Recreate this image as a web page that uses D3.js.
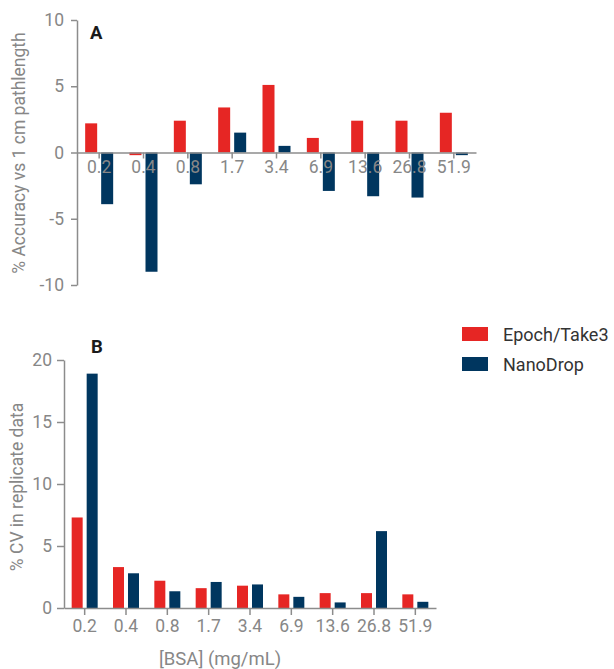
<!DOCTYPE html>
<html>
<head>
<meta charset="utf-8">
<script src="https://cdn.jsdelivr.net/npm/d3@7"></script>
<style>
  html, body { margin: 0; padding: 0; background: #fff; }
  svg { display: block; font-family: Roboto, "Noto Sans", sans-serif; }
</style>
</head>
<body>
<svg id="chart" width="614" height="669"></svg>
<script>
// BSA concentrations (mg/mL)
const categories = ["0.2", "0.4", "0.8", "1.7", "3.4", "6.9", "13.6", "26.8", "51.9"];
const seriesNames = ["Epoch/Take3", "NanoDrop"];

// Panel A: % accuracy vs 1 cm pathlength
const accuracyEpoch    = [2.2, -0.2, 2.4, 3.4, 5.1, 1.1, 2.4, 2.4, 3.0];
const accuracyNanoDrop = [-3.9, -9.0, -2.4, 1.5, 0.5, -2.9, -3.3, -3.4, -0.2];

// Panel B: % CV in replicate data
const cvEpoch    = [7.3, 3.3, 2.2, 1.6, 1.8, 1.1, 1.2, 1.2, 1.1];
const cvNanoDrop = [18.9, 2.8, 1.35, 2.1, 1.9, 0.9, 0.45, 6.2, 0.5];

const accuracyTicks = [-10, -5, 0, 5, 10];
const cvTicks = [0, 5, 10, 15, 20];

const colors = { "Epoch/Take3": "#e62624", "NanoDrop": "#00365f" };
const axisGrey = "#8c8c8c";
const textGrey = "#878787";

const svg = d3.select("#chart");

function drawPanel(opts) {
  const x = d3.scaleBand().domain(categories).range([opts.x0, opts.x1]).padding(0);
  const y = d3.scaleLinear().domain(opts.domain).range([opts.yBottom, opts.yTop]);
  const g = svg.append("g");

  // bars
  const rows = categories.map((c, i) => ({ c, a: opts.a[i], b: opts.b[i] }));
  const bw = opts.barW, gap = opts.gap;
  g.selectAll("rect.a").data(rows).join("rect")
    .attr("x", d => x(d.c) + x.bandwidth() / 2 - gap - bw)
    .attr("width", bw)
    .attr("y", d => y(Math.max(0, d.a)))
    .attr("height", d => Math.abs(y(d.a) - y(0)))
    .attr("fill", colors[seriesNames[0]]);
  g.selectAll("rect.b").data(rows).join("rect")
    .attr("x", d => x(d.c) + x.bandwidth() / 2 + gap)
    .attr("width", bw)
    .attr("y", d => y(Math.max(0, d.b)))
    .attr("height", d => Math.abs(y(d.b) - y(0)))
    .attr("fill", colors[seriesNames[1]]);

  // y axis (plain hyphen for negatives)
  const ya = g.append("g")
    .attr("transform", `translate(${opts.x0},0)`)
    .call(d3.axisLeft(y).tickValues(opts.ticks).tickFormat(d => String(d))
      .tickSize(opts.yTick).tickPadding(opts.yPad).tickSizeOuter(0));
  // x axis on the zero line
  const xa = g.append("g")
    .attr("transform", `translate(0,${y(0)})`)
    .call(d3.axisBottom(x).tickSize(opts.xTick).tickPadding(opts.xPad).tickSizeOuter(0));

  [ya, xa].forEach(a => {
    a.select(".domain").attr("stroke", axisGrey).attr("stroke-width", 1.5);
    a.selectAll(".tick line").attr("stroke", axisGrey).attr("stroke-width", 1.5);
    a.selectAll(".tick text").attr("fill", textGrey)
      .style("font-size", "17.5px").style("font-family", "Roboto, sans-serif");
  });

  // panel letter
  g.append("text").attr("x", opts.letterX).attr("y", opts.letterY)
    .text(opts.letter).attr("fill", "#1a1a1a")
    .style("font-weight", "bold").style("font-size", "18.5px");

  // y title
  g.append("text")
    .attr("transform", `translate(${opts.titleX},${opts.titleY}) rotate(-90)`)
    .attr("text-anchor", "middle")
    .attr("fill", textGrey)
    .style("font-size", "17.5px")
    .text(opts.title);
}

drawPanel({
  a: accuracyEpoch, b: accuracyNanoDrop, domain: [-10, 10], ticks: accuracyTicks,
  x0: 77, x1: 476, yBottom: 285, yTop: 20, barW: 12, gap: 2,
  yTick: 6, yPad: 7, xTick: 6, xPad: 2,
  letter: "A", letterX: 90, letterY: 39,
  title: "% Accuracy vs 1 cm pathlength", titleX: 25, titleY: 153
});

drawPanel({
  a: cvEpoch, b: cvNanoDrop, domain: [0, 20], ticks: cvTicks,
  x0: 64, x1: 436, yBottom: 608, yTop: 360, barW: 11, gap: 2,
  yTick: 7, yPad: 5, xTick: 7, xPad: 5,
  letter: "B", letterX: 91, letterY: 353,
  title: "% CV in replicate data", titleX: 23, titleY: 487
});

// x title
svg.append("text").attr("x", 220).attr("y", 665)
  .attr("text-anchor", "middle").attr("fill", textGrey)
  .style("font-size", "18.5px").text("[BSA] (mg/mL)");

// legend
const legend = svg.append("g").attr("transform", "translate(462,327)");
legend.selectAll("g").data(seriesNames).join("g")
  .attr("transform", (d, i) => `translate(0,${i * 30})`)
  .each(function (d) {
    const s = d3.select(this);
    s.append("rect").attr("width", 26).attr("height", 14).attr("fill", colors[d]);
    s.append("text").attr("x", 41).attr("y", 14).attr("fill", "#333")
      .style("font-size", "18px").text(d);
  });
</script>
</body>
</html>
